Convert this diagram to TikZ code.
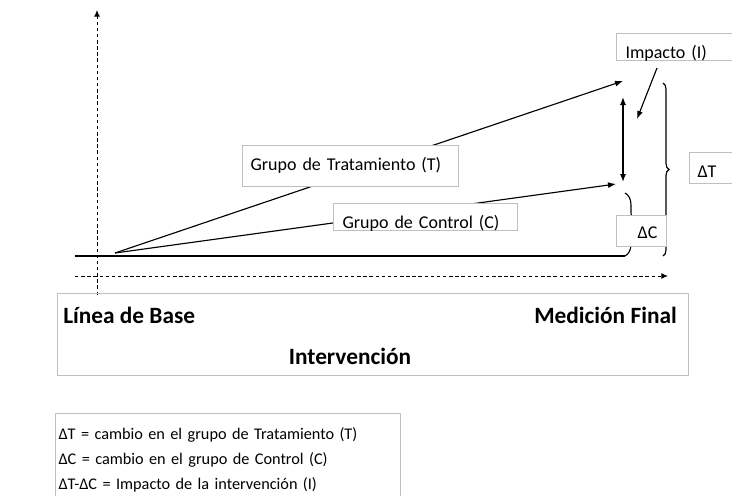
\documentclass[tikz,border=0pt]{standalone}
\usepackage{fontspec}
\setmainfont{Carlito}
\usetikzlibrary{arrows.meta,decorations.pathreplacing}
\definecolor{boxgray}{RGB}{191,191,191}

\begin{document}
\begin{tikzpicture}[
    x=0.75pt, y=-0.75pt,
    signal/.style={draw, line width=0.9pt},
    axis/.style={draw, line width=0.75pt, dash pattern=on 2.6pt off 2pt, -{Latex[length=5pt,width=4.5pt]}},
    arrowline/.style={draw, line width=0.85pt, -{Latex[length=6pt,width=4.5pt]}},
    lbox/.style={draw=boxgray, fill=white, line width=0.75pt, inner ysep=0pt, anchor=north west, align=left, font=\fontsize{13.5}{16}\selectfont},
    panelbox/.style={draw=boxgray, line width=0.75pt, anchor=north west, inner sep=0pt},
    bracepath/.style={draw, line width=0.85pt, decorate, decoration={brace, amplitude=#1}},
    boldlbl/.style={font=\fontsize{17.5}{20}\selectfont\bfseries, inner sep=0pt}
]
    % Define coordinates
    \def\axisX{97}
    \def\axisY{276}
    \def\baseY{256}
    \def\endX{623}

    \useasboundingbox (0,0) rectangle (732,496);

    % Axes (dashed)
    \coordinate (yFrom) at (\axisX, 295);
    \coordinate (yTo) at (\axisX, 10);
    \coordinate (xFrom) at (75, \axisY);
    \coordinate (xTo) at (668, \axisY);
    \draw[axis] (yFrom) -- (yTo);
    \draw[axis] (xFrom) -- (xTo);

    % Baseline
    \coordinate (baseFrom) at (75, \baseY);
    \coordinate (baseTo) at (625, \baseY);
    \draw[signal] (baseFrom) -- (baseTo);

    % Treatment and control lines
    \coordinate (origin) at (115, 253);
    \coordinate (tTip) at (\endX, 81);
    \coordinate (cTip) at (616, 184);
    \draw[arrowline] (origin) -- (tTip);
    \draw[arrowline] (origin) -- (cTip);

    % Impact (double arrow)
    \coordinate (dTop) at (\endX, 97);
    \coordinate (dBot) at (\endX, 182);
    \draw[arrowline, {Latex[length=6pt,width=4.5pt]}-{Latex[length=6pt,width=4.5pt]}] (dTop) -- (dBot);

    % Braces
    \draw[bracepath=4.5pt] (663, 83) -- (663, \baseY);
    \draw[bracepath=9pt] (625, 193) -- (625, \baseY);

    % Labels in boxes
    \node[lbox, inner xsep=6pt, text width=150pt, text height=18.75pt, text depth=12pt] (tLbl) at (242, 145) {Grupo de Tratamiento (T)};
    \node[lbox, inner xsep=6.75pt, text width=124.5pt, text height=18.75pt, text depth=1.5pt] (cLbl) at (333, 203) {Grupo de Control (C)};
    \node[lbox, inner xsep=6.75pt, text width=83.25pt, text height=18.75pt, text depth=1.5pt] (impLbl) at (616, 33) {Impacto (I)};
    \node[lbox, inner xsep=6pt, text width=30pt, text height=18.75pt, text depth=4.5pt] (dtLbl) at (689, 152) {ΔT};
    \node[lbox, align=right, inner xsep=6.75pt, text width=24pt, text height=17.25pt, text depth=6pt] (dcLbl) at (616, 215) {ΔC};

    % Arrow from the impact label
    \coordinate (impFrom) at (657, 68);
    \coordinate (impTo) at (637, 119);
    \draw[arrowline] (impFrom) -- (impTo);

    % Time panel
    \node[panelbox, minimum width=473.25pt, minimum height=61.5pt] (panel) at (57, 293) {};
    \node[boldlbl, anchor=base west] (baseLbl) at (63, 323) {Línea de Base};
    \node[boldlbl, anchor=base east] (finalLbl) at (677, 323) {Medición Final};
    \node[boldlbl, anchor=base] (intLbl) at (350, 364) {Intervención};

    % Legend
    \node[panelbox, align=left, inner xsep=2.25pt, inner ysep=10.5pt, text width=254.25pt, font=\fontsize{12.2}{18.75}\selectfont] (legend) at (55, 413) {ΔT = cambio en el grupo de Tratamiento (T)\\ΔC = cambio en el grupo de Control (C)\\ΔT-ΔC = Impacto de la intervención (I)};

\end{tikzpicture}
\end{document}
